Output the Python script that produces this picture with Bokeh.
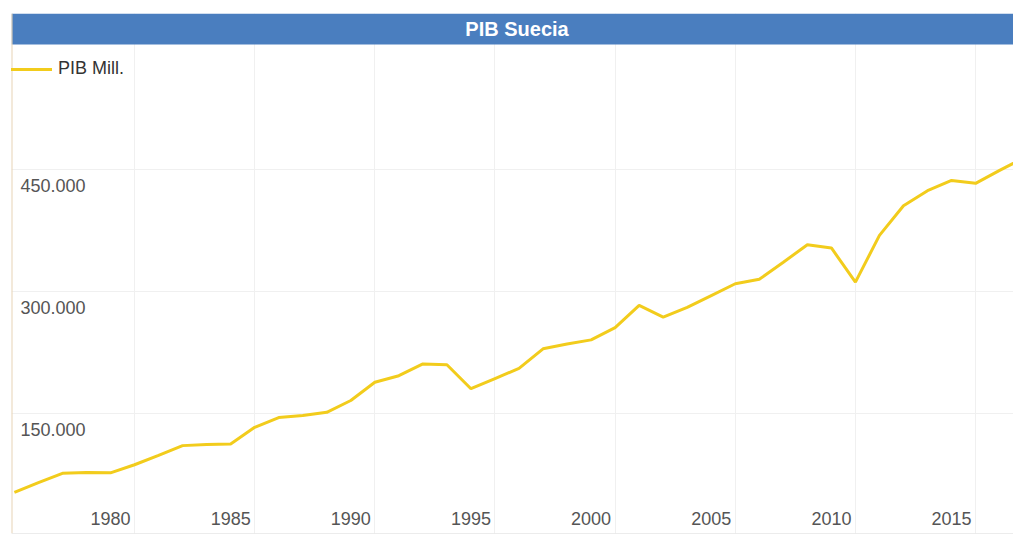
from bokeh.plotting import figure
from bokeh.models import (Span, BoxAnnotation, Label, Legend, LegendItem,
                          FixedTicker)
from bokeh.core.properties import value
from bokeh.embed import file_html
from bokeh.resources import INLINE

# ---------------- data ----------------
years = list(range(1976, 2019))
pib_mill = [53000, 65000, 76500, 77500, 77000, 87000, 98500, 110500, 112000, 112500,
            133000, 145000, 147500, 151500, 166000, 188500, 196500, 211000, 210000, 180500,
            193000, 205500, 229500, 235500, 240500, 255500, 283000, 268500, 280500, 295000,
            309500, 315000, 336000, 357500, 353500, 311500, 369000, 405500, 424000, 436500,
            433000, 449000, 464000]
x_tick_years = [1980, 1985, 1990, 1995, 2000, 2005, 2010, 2015]
x_grid_years = [1981, 1986, 1991, 1996, 2001, 2006, 2011, 2016]
y_tick_values = [150000, 300000, 450000]
title_text = "PIB Suecia"
series_name = "PIB Mill."

# ---------------- layout constants (pixels on page) ----------------
W, H = 1013, 534
FRAME_LEFT, FRAME_TOP = 11, 13
FRAME_RIGHT, FRAME_BOTTOM = 1013, 533
PX_1980, PX_PER_YEAR = 110.0, 24.03
PY_ZERO, PX_PER_UNIT = 535.0, 122.0 / 150000.0
TITLE_BOTTOM_PX = 44


def px_to_year(px):
    return 1980 + (px - PX_1980) / PX_PER_YEAR


def py_to_val(py):
    return (PY_ZERO - py) / PX_PER_UNIT


x_start, x_end = px_to_year(FRAME_LEFT), px_to_year(FRAME_RIGHT)
y_start, y_end = py_to_val(FRAME_BOTTOM), py_to_val(FRAME_TOP)

FONT = "Liberation Sans"
LINE_COLOR = "#f2cc1c"
BLUE = "#4a7ebf"

p = figure(width=W, height=H, output_backend="svg", toolbar_location=None,
           x_range=(x_start, x_end), y_range=(y_start, y_end),
           x_axis_location=None, y_axis_location=None,
           min_border_left=FRAME_LEFT, min_border_top=FRAME_TOP,
           min_border_right=W - FRAME_RIGHT, min_border_bottom=H - FRAME_BOTTOM)
p.outline_line_color = None
p.background_fill_color = "white"
p.border_fill_color = "white"

p.xgrid.ticker = FixedTicker(ticks=x_grid_years)
p.ygrid.ticker = FixedTicker(ticks=y_tick_values)
p.xgrid.grid_line_color = "#f0f0f0"
p.ygrid.grid_line_color = "#f0f0f0"

# title bar
p.add_layout(BoxAnnotation(bottom=py_to_val(TITLE_BOTTOM_PX), fill_color=BLUE,
                           fill_alpha=1.0, line_color=None))
p.add_layout(Label(x=px_to_year(516.5), y=py_to_val(28.5), text=title_text,
                   text_align="center", text_baseline="middle",
                   text_color="white", text_font=FONT,
                   text_font_style="bold", text_font_size="20px"))

# frame lines
p.add_layout(Span(location=x_start, dimension="height", line_color="#e8d3b5",
                  line_width=2))
p.add_layout(Span(location=y_start, dimension="width", line_color="#d9d9d9",
                  line_width=1))

# data line
r = p.line(years, pib_mill, line_color=LINE_COLOR, line_width=3)

# y tick labels (inside the plot, under the grid lines)
p.text(x=[px_to_year(20)] * len(y_tick_values), y=y_tick_values,
       text=[f"{v:,}".replace(",", ".") for v in y_tick_values],
       text_align="left", text_baseline="middle", y_offset=16,
       text_font=value(FONT), text_font_size="18px", text_color="#555555")

# x tick labels (inside the plot, at the bottom)
p.text(x=x_tick_years, y=[y_start] * len(x_tick_years),
       text=[str(y) for y in x_tick_years],
       text_align="center", text_baseline="middle", y_offset=-15,
       text_font=value(FONT), text_font_size="18px", text_color="#555555")

legend = Legend(items=[LegendItem(label=series_name, renderers=[r])],
                location=(-3, FRAME_BOTTOM - 79),
                background_fill_alpha=0, border_line_color=None,
                padding=0, margin=0, spacing=0,
                glyph_width=44, glyph_height=20, label_height=20,
                label_standoff=6, label_text_font=FONT,
                label_text_font_size="18px", label_text_color="#333333")
p.add_layout(legend)

open("out.html", "w").write(file_html(p, INLINE))
